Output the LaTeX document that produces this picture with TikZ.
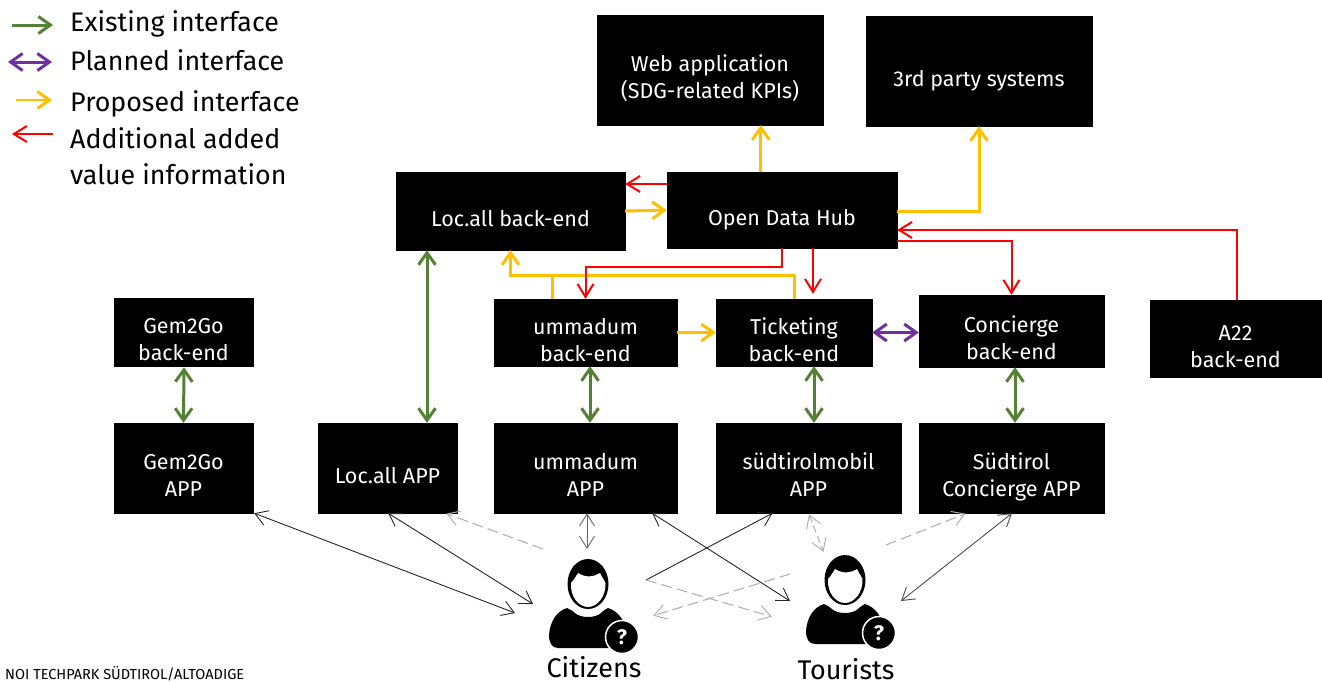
\documentclass[tikz,border=0pt]{standalone}
\usepackage{fontspec}
\setmainfont{Fira Sans}
\usetikzlibrary{arrows.meta}
\definecolor{cgreen}{HTML}{548235}
\definecolor{cpurple}{HTML}{7030A0}
\definecolor{cyellow}{HTML}{FFC000}
\definecolor{cred}{HTML}{FF0000}
\newcommand{\bt}[1]{\raisebox{-15pt}[0pt][0pt]{\begin{tabular}{@{}c@{}}#1\end{tabular}}}
\tikzset{
  x=1pt,y=-1pt,
  box/.style={fill=black,draw=black,line width=.4pt,text=white,inner sep=0pt,font=\fontsize{21.5}{27}\selectfont},
  tipbig/.style={>={Straight Barb[length=12pt,width=17pt,line width=#1]}},
  existing/.style={cgreen,line width=3pt,tipbig=3pt,<->},
  planned/.style={cpurple,line width=3pt,tipbig=3pt,<->},
  proposed/.style={cyellow,line width=3pt,tipbig=3pt,->},
  addval/.style={cred,line width=2pt,>={Straight Barb[length=13pt,width=16pt,line width=2pt]},->},
  direct/.style={black!85,line width=.9pt,>={Straight Barb[length=12pt,width=15pt,line width=.9pt]},<->},
  maybe/.style={black!30,line width=1.1pt,dash pattern=on 11pt off 5pt,>={Straight Barb[length=12pt,width=15pt,line width=1pt,sep]},->},
  legendtext/.style={anchor=west,inner sep=0pt,font=\fontsize{26.8}{32}\selectfont},
  roletext/.style={inner sep=0pt,font=\fontsize{27}{32}\selectfont},
  person/.pic={
    \fill[black] (0,-1) ellipse [x radius=20.5,y radius=25];
    \fill[white] (-17,-2) .. controls (-14,-5) and (-12,-9) .. (-10,-12)
      .. controls (-2,-7) and (6,-8) .. (12,-12)
      .. controls (14,-8) and (16,-5) .. (17.5,-2)
      .. controls (18,12) and (9,22) .. (0,22)
      .. controls (-9,22) and (-18,12) .. (-17,-2) -- cycle;
    \fill[black] (-21,23) .. controls (-14,25) and (-13,32) .. (0,32)
      .. controls (13,32) and (14,25) .. (20,23)
      .. controls (30,26) and (38,36) .. (39,50)
      .. controls (40,60) and (36,63) .. (30,63)
      -- (-30,63) .. controls (-36,63) and (-39,58) .. (-39,50)
      .. controls (-38,36) and (-31,26) .. (-21,23) -- cycle;
    \fill[black,draw=white,line width=1.5pt] (34,52) circle [radius=16.5];
    \node[text=white,inner sep=0pt,font=\fontsize{21}{21}\selectfont\bfseries] at (34,52) {?};
  },
}
\begin{document}
\begin{tikzpicture}
\useasboundingbox (0,0) rectangle (1322,681);
% boxes
\node[box,minimum width=226pt,minimum height=110pt] (web) at (710,70) {\bt{Web application\\(SDG-related KPIs)}};
\node[box,minimum width=226pt,minimum height=110pt] (third) at (979,71) {\bt{3rd party systems}};
\node[box,minimum width=229pt,minimum height=78pt] (locbe) at (510.5,211) {\bt{Loc.all back-end}};
\node[box,minimum width=230pt,minimum height=76pt] (odh) at (782,210) {\bt{Open Data Hub}};
\node[box,minimum width=139pt,minimum height=68pt] (gembe) at (183.5,332) {\bt{Gem2Go\\back-end}};
\node[box,minimum width=183pt,minimum height=67pt] (umbe) at (585.5,332.5) {\bt{ummadum\\back-end}};
\node[box,minimum width=156pt,minimum height=67pt] (tickbe) at (794,332.5) {\bt{Ticketing\\back-end}};
\node[box,minimum width=185pt,minimum height=72pt] (concbe) at (1011.5,331) {\bt{Concierge\\back-end}};
\node[box,minimum width=171pt,minimum height=77pt] (a22) at (1235.5,338.5) {\bt{A22\\back-end}};
\node[box,minimum width=139pt,minimum height=90pt] (gemapp) at (183.5,468) {\bt{Gem2Go\\APP}};
\node[box,minimum width=139pt,minimum height=90pt] (locapp) at (387.5,468) {\bt{Loc.all APP}};
\node[box,minimum width=183pt,minimum height=90pt] (umapp) at (585.5,468) {\bt{ummadum\\APP}};
\node[box,minimum width=185pt,minimum height=90pt] (sudapp) at (808.5,468) {\bt{südtirolmobil\\APP}};
\node[box,minimum width=185pt,minimum height=90pt] (concapp) at (1011.5,468) {\bt{Südtirol\\Concierge APP}};
% people
\pic (pc) at (588,585) {person};
\pic (pt) at (845,581) {person};
\node[roletext] (citizens) at (594,667) {Citizens};
\node[roletext] (tourists) at (846,669) {Tourists};
% free connector ends around the people
\coordinate (c1) at (515,613);
\coordinate (c2) at (533,604);
\coordinate (c3) at (587,549);
\coordinate (c4) at (646,580);
\coordinate (c5) at (543,549);
\coordinate (c6) at (652,616);
\coordinate (t1) at (790,601);
\coordinate (t2) at (901,601);
\coordinate (t3) at (824,553);
\coordinate (t4) at (886,545);
\coordinate (t5) at (773,617);
\coordinate (t6) at (790,574);
% legend
\coordinate (la1) at (12,25); \coordinate (la2) at (53,25);
\coordinate (lb1) at (8,62); \coordinate (lb2) at (52,62);
\coordinate (lc1) at (16,100); \coordinate (lc2) at (52,100);
\coordinate (ld1) at (53,134); \coordinate (ld2) at (12,134);
\draw[existing,-{Straight Barb[length=12pt,width=17pt,line width=3pt]}] (la1) -- (la2);
\draw[planned] (lb1) -- (lb2);
\draw[proposed,line width=2.5pt] (lc1) -- (lc2);
\draw[addval] (ld1) -- (ld2);
\node[legendtext] (l1) at (70,24) {Existing interface};
\node[legendtext] (l2) at (70,60) {Planned interface};
\node[legendtext] (l3) at (70,104) {Proposed interface};
\node[legendtext,align=left,font=\fontsize{26.8}{36}\selectfont] (l4) at (70,156.5) {Additional added\\value information};
\node[anchor=west,inner sep=0pt,font=\fontsize{14.5}{16}\selectfont] (foot) at (5,674) {NOI TECHPARK SÜDTIROL/ALTOADIGE};
% existing
\draw[existing] (gembe.south) ++(0.5,1) coordinate (g1) (g1) -- (gemapp.north);
\draw[existing] ([xshift=39.5pt]locapp.north) -- ([xshift=-83.5pt]locbe.south);
\draw[existing] ([xshift=4.5pt]umbe.south) -- ([xshift=4.5pt]umapp.north);
\draw[existing] ([xshift=20pt]tickbe.south) -- ([xshift=5.5pt]sudapp.north);
\draw[existing] ([xshift=3.5pt]concbe.south) -- ([xshift=3.5pt]concapp.north);
% planned
\draw[planned] (tickbe.east) -- (concbe.west |- tickbe.east);
% proposed
\draw[proposed] ([xshift=94pt]odh.north west) -- ([xshift=164pt]web.south west);
\draw[proposed] (odh.east) ++(0,1) coordinate (o3) (o3) -| (third.south);
\draw[proposed] (locbe.east) -- (odh.west);
\draw[proposed] (umbe.east) -- (tickbe.west);
\draw[proposed] (tickbe.north) -- ++(0,-23) -| (locbe.south);
\draw[cyellow,line width=3pt] ([xshift=-33.5pt]umbe.north) -- ++(0,-23);
% additional value
\draw[addval] ([yshift=26pt]odh.west) -- ([yshift=27pt]locbe.east);
\draw[addval] (odh.south) -- ++(0,19) -| (umbe.north);
\draw[addval] ([xshift=31pt]odh.south) -- ([xshift=19pt,yshift=5pt]tickbe.north);
\draw[addval] ([yshift=-31pt]odh.east) -| (concbe.north);
\draw[addval] (a22.north) ++(1.5,0) coordinate (a1) (a1) |- ([yshift=-20pt]odh.east);
% citizens and tourists
\draw[direct] ([xshift=1pt]gemapp.south east) -- (c1);
\draw[direct] ([xshift=-69pt]locapp.south east) -- (c2);
\draw[direct,black!60] ([xshift=1.5pt]umapp.south) -- (c3);
\draw[direct] ([xshift=-25pt]umapp.south east) -- (t1);
\draw[direct,<-] ([xshift=-36pt]sudapp.south) -- (c4);
\draw[direct,black!70] ([xshift=0.5pt]concapp.south) -- (t2);
\draw[maybe] (c5) -- ([xshift=-12pt]locapp.south east);
\draw[maybe,<->,dash pattern=on 7pt off 4pt] (sudapp.south) -- (t3);
\draw[maybe] (t4) -- ([xshift=-45pt]concapp.south);
\draw[maybe] (c4) -- (t5);
\draw[maybe] (t6) -- (c6);
\end{tikzpicture}
\end{document}
